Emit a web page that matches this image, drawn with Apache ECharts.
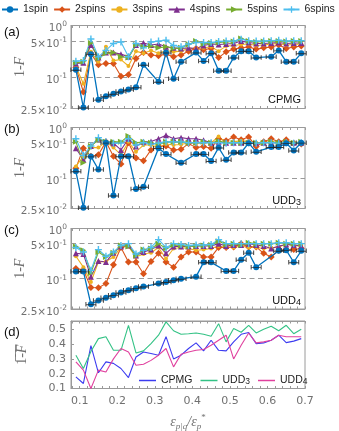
<!DOCTYPE html>
<html><head><meta charset="utf-8">
<script src="https://cdn.jsdelivr.net/npm/echarts@6/dist/echarts.min.js"></script>
<style>html,body{margin:0;padding:0;background:#fff}#c{width:339px;height:431px}</style>
</head><body><div id="c"></div>
<script>
const xs = [0.09,0.11,0.13,0.15,0.17,0.19,0.21,0.23,0.25,0.27,0.29,0.31,0.33,0.35,0.37,0.39,0.41,0.43,0.45,0.47,0.49,0.51,0.53,0.55,0.57,0.59,0.61,0.63,0.65,0.67,0.69];
const spinNames = ['1spin','2spins','3spins','4spins','5spins','6spins'];
const methodNames = ['CPMG','UDD3','UDD4'];

// panel (a) CPMG
const a1 = [0.14,0.026,0.28,0.037,0.043,0.048,0.053,0.058,0.064,0.174,null,0.082,0.3,0.094,0.2,null,0.3,0.207,0.29,0.134,0.134,0.24,0.32,0.32,0.24,null,0.25,0.33,0.2,0.2,0.29];
const a2 = [0.155,0.052,0.29,0.175,0.185,0.185,0.105,0.112,0.23,0.3,0.27,0.26,0.28,0.25,0.27,0.32,0.36,0.34,0.36,0.24,0.31,0.35,0.37,0.385,0.35,0.37,0.385,0.42,0.36,0.385,0.4];
const a3 = [0.16,0.075,0.31,0.2,0.39,0.21,0.22,0.165,0.32,0.29,0.33,0.29,0.33,0.31,0.32,0.36,0.36,0.37,0.39,0.32,0.4,0.41,0.43,0.44,0.41,0.42,0.44,0.45,0.42,0.43,0.44];
const a4 = [0.185,0.19,0.42,0.24,0.3,0.3,0.28,0.25,0.42,0.46,0.42,0.44,0.39,0.37,0.36,0.37,0.36,0.41,0.44,0.43,0.44,0.45,0.5,0.47,0.45,0.45,0.46,0.47,0.45,0.46,0.46];
const a5 = [0.19,0.2,0.46,0.23,0.29,0.3,0.25,0.24,0.42,0.39,0.4,0.37,0.39,0.36,0.37,0.43,0.5,0.44,0.46,0.47,0.48,0.49,0.56,0.5,0.48,0.49,0.5,0.5,0.49,0.5,0.5];
const a6 = [0.205,0.21,0.55,0.25,0.33,0.45,0.48,0.25,0.45,0.37,0.48,0.5,0.52,0.41,0.39,0.44,0.47,0.47,0.47,0.49,0.5,0.5,0.54,0.51,0.5,0.5,0.51,0.52,0.5,0.51,0.51];
// panel (b) UDD3
const b1 = [0.136,0.026,0.268,0.148,0.5,0.045,0.27,0.27,0.061,0.067,null,0.39,0.3,null,0.2,null,0.3,0.3,0.217,0.4,0.23,0.32,0.32,0.49,0.33,null,0.41,0.41,0.49,0.35,0.5];
const b2 = [0.157,0.39,0.27,0.29,0.52,0.27,0.19,0.5,0.25,0.22,0.36,0.42,0.43,0.36,0.37,0.48,0.4,0.42,0.39,0.6,0.55,0.65,0.57,0.65,0.42,0.52,0.6,0.52,0.57,0.49,0.47];
const b3 = [0.17,0.27,0.4,0.4,0.52,0.4,0.29,0.52,0.33,0.45,0.45,0.4,0.47,0.45,0.46,0.5,0.48,0.5,0.5,0.66,0.5,0.52,0.55,0.52,0.5,0.5,0.52,0.5,0.52,0.5,0.5];
const b4 = [0.39,0.23,0.43,0.6,0.52,0.49,0.36,0.6,0.42,0.52,0.53,0.6,0.7,0.6,0.63,0.6,0.6,0.56,0.5,0.52,0.5,0.5,0.5,0.5,0.5,0.5,0.5,0.5,0.5,0.5,0.5];
const b5 = [0.52,0.2,0.43,0.57,0.52,0.52,0.52,0.68,0.5,0.52,0.5,0.46,0.52,0.52,0.52,0.5,0.5,0.52,0.5,0.54,0.5,0.5,0.5,0.5,0.5,0.5,0.52,0.5,0.52,0.5,0.52];
const b6 = [0.6,0.28,0.43,0.63,0.52,0.49,0.49,0.6,0.45,0.5,0.47,0.49,0.52,0.52,0.52,0.5,0.5,0.5,0.5,0.5,0.49,0.5,0.5,0.5,0.49,0.5,0.5,0.49,0.5,0.49,0.5];
// panel (c) UDD4
const c1 = [0.14,0.14,0.031,0.037,0.042,0.047,0.053,0.059,0.065,0.07,null,0.08,0.086,0.093,0.1,null,0.11,0.212,0.212,null,0.143,0.143,0.238,0.33,0.17,null,null,0.36,0.37,0.213,0.36];
const c2 = [0.16,0.15,0.067,0.066,0.08,0.19,0.42,0.215,0.215,0.126,0.22,0.32,0.215,0.17,0.27,0.34,0.34,0.27,0.27,0.42,0.42,0.43,0.5,0.43,0.43,0.32,0.27,0.37,0.38,0.38,0.4];
const c3 = [0.28,0.17,0.086,0.215,0.22,0.27,0.43,0.44,0.27,0.31,0.33,0.42,0.25,0.4,0.42,0.4,0.37,0.38,0.4,0.45,0.42,0.42,0.45,0.42,0.42,0.4,0.42,0.42,0.5,0.45,0.45];
const c4 = [0.32,0.31,0.11,0.225,0.215,0.33,0.44,0.46,0.29,0.34,0.38,0.46,0.32,0.44,0.44,0.44,0.45,0.45,0.45,0.5,0.45,0.47,0.47,0.5,0.47,0.45,0.4,0.45,0.48,0.47,0.45];
const c5 = [0.44,0.37,0.13,0.34,0.27,0.33,0.46,0.44,0.29,0.38,0.4,0.5,0.4,0.47,0.46,0.44,0.45,0.46,0.47,0.56,0.48,0.5,0.47,0.52,0.5,0.5,0.5,0.52,0.5,0.5,0.5];
const c6 = [0.42,0.34,0.147,0.38,0.28,0.34,0.46,0.5,0.31,0.37,0.42,0.6,0.42,0.5,0.48,0.46,0.47,0.47,0.48,0.6,0.5,0.5,0.5,0.5,0.5,0.5,0.5,0.52,0.52,0.5,0.5];
// panel (d) averages
const dCPMG = [0.179,0.134,0.39,0.206,0.28,0.27,0.235,0.174,0.313,0.347,0.336,0.325,0.45,0.3,0.325,0.37,0.408,0.354,0.426,0.358,0.354,0.415,0.466,0.478,0.403,0.408,0.426,0.46,0.41,0.42,0.437];
const dUDD3 = [0.325,0.235,0.35,0.437,0.45,0.358,0.358,0.527,0.34,0.354,0.403,0.46,0.55,0.49,0.466,0.47,0.475,0.466,0.453,0.538,0.415,0.505,0.48,0.527,0.475,0.5,0.52,0.49,0.527,0.47,0.5];
const dUDD4 = [0.28,0.224,0.1,0.224,0.212,0.3,0.37,0.347,0.257,0.264,0.29,0.325,0.37,0.246,0.331,0.347,0.358,0.363,0.392,0.426,0.46,0.3,0.392,0.475,0.408,0.415,0.426,0.46,0.45,0.45,0.45];

const xTicks = [0.08,0.10,0.12,0.14,0.16,0.18,0.20,0.22,0.24,0.26,0.28,0.30,0.32,0.34,0.36,0.38,0.40,0.42,0.44,0.46,0.48,0.50,0.52,0.54,0.56,0.58,0.60,0.62,0.64,0.66,0.68,0.70];
const xLabels = [0.1,0.2,0.3,0.4,0.5,0.6,0.7];
const yLogTicks = [0.025,0.1,0.5,1];
const yLogLabels = ['{b|2.5×10}{sup|-2}','{b|10}{sup|-1}','{b|5×10}{sup|-1}','{b|10}{sup|0}'];
const yLinTicks = [0.1,0.2,0.3,0.4,0.5];

const panelData = [[a1,a2,a3,a4,a5,a6],[b1,b2,b3,b4,b5,b6],[c1,c2,c3,c4,c5,c6]];
const dData = [dCPMG,dUDD3,dUDD4];

const spinColors = ['#0072BD','#D95319','#EDB120','#7E2F8E','#77AC30','#4DBEEE'];
const spinSymbols = ['circle','diamond','circle','triangle','triangle','path://M4,0H6V4H10V6H6V10H4V6H0V4H4Z'];
const spinSizes = [6,7,4,6,6,7];
const spinRot = [0,0,0,0,-90,0];
const methodColors = ['#3c3cf0','#33c285','#e0409e'];

const gray = '#707070', axisGray = '#9a9a9a';
const boxes = [{top:25.5,height:83},{top:127.5,height:81},{top:228.5,height:80.5},{top:321,height:67.5}];
const grids = boxes.map(b => ({left:71, right:34, top:b.top, height:b.height, show:true, borderColor:axisGray, borderWidth:1, outerBoundsMode:'none', containLabel:false}));

const labelFont = {color:gray, fontSize:11, fontFamily:'DejaVu Sans'};
const xAxes = [];
for (let g = 0; g < 4; g++) {
  xAxes.push({
    type:'value', gridIndex:g, min:0.077, max:0.7, position:'bottom',
    axisLine:{show:true, lineStyle:{color:axisGray, width:1}},
    axisTick:{show:true, inside:true, length:2.5, customValues:xTicks, lineStyle:{color:axisGray}},
    axisLabel:Object.assign({show:g===3, customValues:xLabels, margin:7, formatter:v=>v.toFixed(1)}, labelFont),
    splitLine:{show:false},
    name: g===3 ? '{i|ε}{s|p|q}{i|/ε}{s|p}{u|*}' : '',
    nameLocation:'middle', nameGap:25, nameMoveOverlap:false,
    nameTextStyle:{rich:{
      i:{fontFamily:'Liberation Serif', fontStyle:'italic', fontSize:14, color:gray, lineHeight:18},
      s:{fontFamily:'Liberation Serif', fontStyle:'italic', fontSize:9, color:gray, verticalAlign:'bottom', lineHeight:14},
      u:{fontFamily:'Liberation Serif', fontSize:9, color:gray, verticalAlign:'top', lineHeight:10}
    }}
  });
}
for (let g = 0; g < 4; g++) {
  xAxes.push({
    type:'value', gridIndex:g, min:0.077, max:0.7, position:'top',
    axisLine:{show:true, lineStyle:{color:axisGray, width:1}},
    axisTick:{show:true, inside:true, length:2.5, customValues:xTicks, lineStyle:{color:axisGray}},
    axisLabel:{show:false}, splitLine:{show:false}
  });
}

const nameRich = {
  n:{fontFamily:'Liberation Serif', fontSize:14, color:gray},
  i:{fontFamily:'Liberation Serif', fontStyle:'italic', fontSize:14, color:gray}
};
const yAxes = [];
for (let g = 0; g < 3; g++) {
  yAxes.push({
    type:'log', logBase:10, gridIndex:g, min:0.025, max:1,
    axisLine:{show:true, lineStyle:{color:axisGray}},
    axisTick:{show:true, inside:true, length:3, customValues:yLogTicks, lineStyle:{color:axisGray}},
    axisLabel:{customValues:yLogTicks, margin:4, padding:[6,0,0,0],
      formatter:v => {
        let best = 0;
        yLogTicks.forEach((t,k)=>{ if (Math.abs(Math.log(v/t)) < Math.abs(Math.log(v/yLogTicks[best]))) best = k; });
        return yLogLabels[best];
      },
      rich:{
        b:{color:gray, fontSize:10.5, fontFamily:'DejaVu Sans', lineHeight:16},
        sup:{color:gray, fontSize:7.5, fontFamily:'DejaVu Sans', verticalAlign:'top', lineHeight:9}
      }},
    splitLine:{show:true, showMinLine:false, showMaxLine:false, lineStyle:{color:'#9a9a9a', type:[5,3.5], width:1}},
    name:'{n|1-}{i|F}', nameLocation:'middle', nameGap:44, nameRotate:90, nameMoveOverlap:false,
    nameTextStyle:{rich:nameRich}
  });
}
yAxes.push({
  type:'value', gridIndex:3, min:0.1, max:0.556,
  axisLine:{show:true, lineStyle:{color:axisGray}},
  axisTick:{show:true, inside:true, length:3, customValues:yLinTicks, lineStyle:{color:axisGray}},
  axisLabel:Object.assign({customValues:yLinTicks, margin:5, formatter:v=>v.toFixed(1)}, labelFont),
  splitLine:{show:false},
  name:'{n|1\u0305-\u0305}{i|F\u0305}', nameLocation:'middle', nameGap:42, nameRotate:90, nameMoveOverlap:false,
  nameTextStyle:{rich:nameRich}
});

const series = [];
panelData.forEach((panel, g) => {
  panel.forEach((vals, s) => {
    series.push({
      type:'line', name:spinNames[s], xAxisIndex:g, yAxisIndex:g,
      data: xs.map((x,i)=>[x, vals[i]]),
      connectNulls:true,
      symbol:spinSymbols[s], symbolSize:spinSizes[s], symbolRotate:spinRot[s],
      showSymbol:true,
      lineStyle:{color:spinColors[s], width:s===0?1.3:1.1},
      itemStyle:{color:spinColors[s]},
      emphasis:{disabled:true},
      z: s===0 ? 3 : 2
    });
    if (s === 0) {
      series.push({
        type:'scatter', name:'err', xAxisIndex:g, yAxisIndex:g,
        data: xs.map((x,i)=>[x, vals[i]]).filter(p=>p[1]!=null),
        symbol:'path://M0,0H1V2.5H10V0H11V5H10V3.5H1V5H0Z', symbolSize:[11,4.5],
        itemStyle:{color:'#222', opacity:0.85},
        emphasis:{disabled:true}, z:4, silent:true
      });
    }
  });
});
dData.forEach((vals, s) => {
  series.push({
    type:'line', name:methodNames[s], xAxisIndex:3, yAxisIndex:3,
    data: xs.map((x,i)=>[x, vals[i]]),
    symbol:'none', showSymbol:false,
    lineStyle:{color:methodColors[s], width:1.1},
    itemStyle:{color:methodColors[s]},
    emphasis:{disabled:true}
  });
});

const titleStyle = {fontFamily:'Liberation Sans', fontSize:13, fontWeight:'normal', color:'#111'};
const methStyle = {fontFamily:'Liberation Sans', fontSize:11, fontWeight:'normal', color:'#111',
  rich:{m:{fontFamily:'Liberation Sans', fontSize:11, color:'#111'}, s:{fontFamily:'Liberation Sans', fontSize:9, color:'#111', verticalAlign:'bottom', lineHeight:13}}};

const option = {
  animation:false,
  backgroundColor:'#fff',
  textStyle:{fontFamily:'DejaVu Sans'},
  title:[
    {text:'(a)', left:4, top:26, padding:0, textStyle:titleStyle},
    {text:'(b)', left:4, top:123, padding:0, textStyle:titleStyle},
    {text:'(c)', left:4, top:224, padding:0, textStyle:titleStyle},
    {text:'(d)', left:4, top:326, padding:0, textStyle:titleStyle},
    {text:'{m|CPMG}', right:38, top:94, padding:0, textStyle:methStyle},
    {text:'{m|UDD}{s|3}', right:38, top:194, padding:0, textStyle:methStyle},
    {text:'{m|UDD}{s|4}', right:38, top:294, padding:0, textStyle:methStyle}
  ],
  legend:[
    {data:spinNames, left:1, top:4, width:338, itemWidth:16, itemHeight:8, itemGap:5, padding:0,
     textStyle:{fontFamily:'Liberation Sans', fontSize:10.5, color:'#222'}},
    {data:methodNames, left:139, top:375, itemWidth:17, itemHeight:1.5, itemGap:8, padding:0, icon:'rect',
     formatter: n => n.replace(/(\d)$/, '{s|$1}'),
     textStyle:{fontFamily:'Liberation Sans', fontSize:10.5, color:'#222',
       rich:{s:{fontFamily:'Liberation Sans', fontSize:8.5, color:'#222', verticalAlign:'bottom', lineHeight:12}}}}
  ],
  grid:grids,
  xAxis:xAxes,
  yAxis:yAxes,
  series:series
};
const chart = echarts.init(document.getElementById('c'), null, {renderer:'canvas'});
chart.setOption(option);
</script>
</body></html>
